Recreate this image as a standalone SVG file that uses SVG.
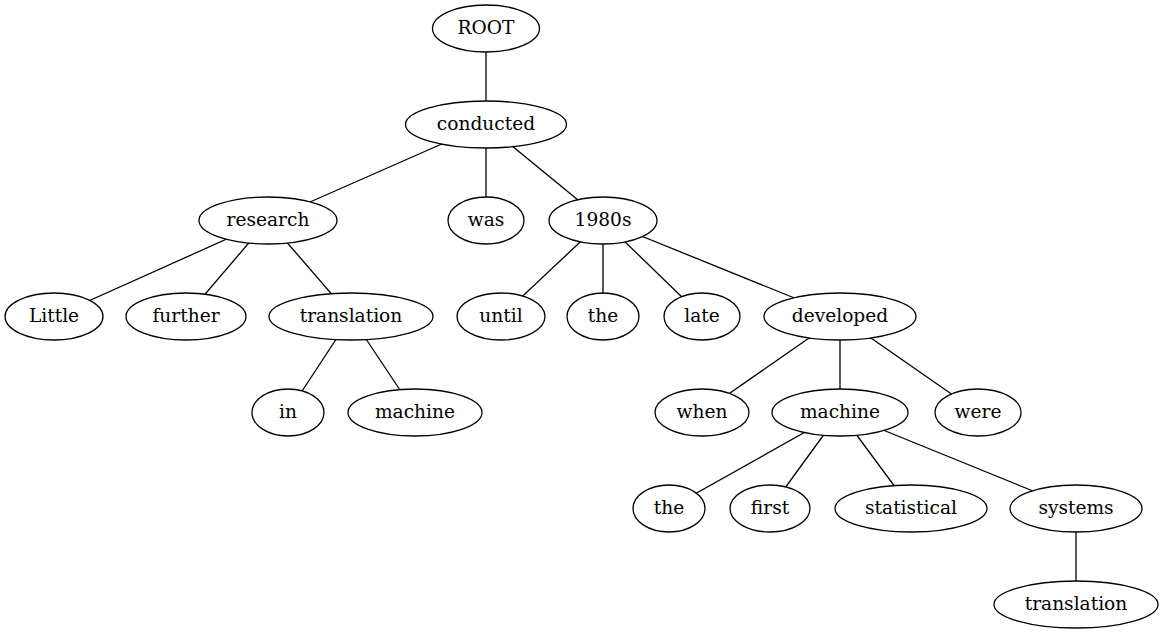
<svg xmlns="http://www.w3.org/2000/svg" width="1164" height="635" viewBox="0 0 1164 635">
<style>
ellipse{fill:#fff;stroke:#000;stroke-width:1.3}
text{font-family:"DejaVu Serif",serif;font-size:18.6px;text-anchor:middle;dominant-baseline:central;fill:#000}
line{stroke:#000;stroke-width:1.3}
</style>
<rect width="1164" height="635" fill="#fff"/>
<g id="edges">
<line x1="486" y1="28.5" x2="486" y2="124.5"/>
<line x1="486" y1="124.5" x2="268" y2="220.5"/>
<line x1="486" y1="124.5" x2="486" y2="220.5"/>
<line x1="486" y1="124.5" x2="603" y2="220.5"/>
<line x1="268" y1="220.5" x2="54" y2="316.5"/>
<line x1="268" y1="220.5" x2="186" y2="316.5"/>
<line x1="268" y1="220.5" x2="351" y2="316.5"/>
<line x1="351" y1="316.5" x2="288" y2="412.5"/>
<line x1="351" y1="316.5" x2="415" y2="412.5"/>
<line x1="603" y1="220.5" x2="501" y2="316.5"/>
<line x1="603" y1="220.5" x2="603" y2="316.5"/>
<line x1="603" y1="220.5" x2="702" y2="316.5"/>
<line x1="603" y1="220.5" x2="840" y2="316.5"/>
<line x1="840" y1="316.5" x2="702" y2="412.5"/>
<line x1="840" y1="316.5" x2="840" y2="412.5"/>
<line x1="840" y1="316.5" x2="978" y2="412.5"/>
<line x1="840" y1="412.5" x2="669" y2="508.5"/>
<line x1="840" y1="412.5" x2="770" y2="508.5"/>
<line x1="840" y1="412.5" x2="911" y2="508.5"/>
<line x1="840" y1="412.5" x2="1076" y2="508.5"/>
<line x1="1076" y1="508.5" x2="1076" y2="604.5"/>
</g>
<g id="n_root"><ellipse cx="486" cy="28.5" rx="53.5" ry="23.5"/><text x="486" y="27.5">ROOT</text></g>
<g id="n_conducted"><ellipse cx="486" cy="124.5" rx="80.5" ry="23.5"/><text x="486" y="123.5">conducted</text></g>
<g id="n_research"><ellipse cx="268" cy="220.5" rx="69" ry="23.5"/><text x="268" y="219.5">research</text></g>
<g id="n_was"><ellipse cx="486" cy="220.5" rx="38" ry="23.5"/><text x="486" y="219.5">was</text></g>
<g id="n_1980s"><ellipse cx="603" cy="220.5" rx="54" ry="23.5"/><text x="603" y="219.5">1980s</text></g>
<g id="n_little"><ellipse cx="54" cy="316.5" rx="49" ry="23.5"/><text x="54" y="315.5">Little</text></g>
<g id="n_further"><ellipse cx="186" cy="316.5" rx="60" ry="23.5"/><text x="186" y="315.5">further</text></g>
<g id="n_translation1"><ellipse cx="351" cy="316.5" rx="82" ry="23.5"/><text x="351" y="315.5">translation</text></g>
<g id="n_until"><ellipse cx="501" cy="316.5" rx="44" ry="23.5"/><text x="501" y="315.5">until</text></g>
<g id="n_the1"><ellipse cx="603" cy="316.5" rx="36" ry="23.5"/><text x="603" y="315.5">the</text></g>
<g id="n_late"><ellipse cx="702" cy="316.5" rx="38" ry="23.5"/><text x="702" y="315.5">late</text></g>
<g id="n_developed"><ellipse cx="840" cy="316.5" rx="76" ry="23.5"/><text x="840" y="315.5">developed</text></g>
<g id="n_in"><ellipse cx="288" cy="412.5" rx="36" ry="23.5"/><text x="288" y="411.5">in</text></g>
<g id="n_machine1"><ellipse cx="415" cy="412.5" rx="67" ry="23.5"/><text x="415" y="411.5">machine</text></g>
<g id="n_when"><ellipse cx="702" cy="412.5" rx="47" ry="23.5"/><text x="702" y="411.5">when</text></g>
<g id="n_machine2"><ellipse cx="840" cy="412.5" rx="68" ry="23.5"/><text x="840" y="411.5">machine</text></g>
<g id="n_were"><ellipse cx="978" cy="412.5" rx="43" ry="23.5"/><text x="978" y="411.5">were</text></g>
<g id="n_the2"><ellipse cx="669" cy="508.5" rx="36" ry="23.5"/><text x="669" y="507.5">the</text></g>
<g id="n_first"><ellipse cx="770" cy="508.5" rx="40" ry="23.5"/><text x="770" y="507.5">first</text></g>
<g id="n_statistical"><ellipse cx="911" cy="508.5" rx="76" ry="23.5"/><text x="911" y="507.5">statistical</text></g>
<g id="n_systems"><ellipse cx="1076" cy="508.5" rx="66" ry="23.5"/><text x="1076" y="507.5">systems</text></g>
<g id="n_translation2"><ellipse cx="1076" cy="604.5" rx="82" ry="23.5"/><text x="1076" y="603.5">translation</text></g>
</svg>
